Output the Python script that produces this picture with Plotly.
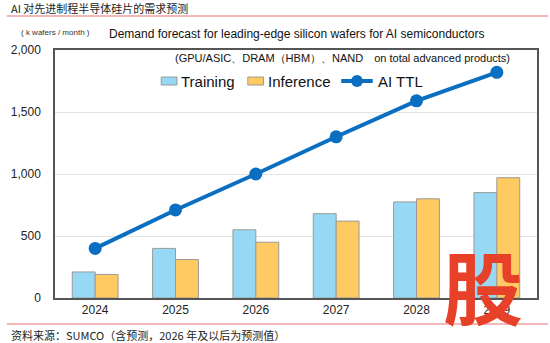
import plotly.graph_objects as go

years = ["2024", "2025", "2026", "2027", "2028", "2029"]
training = [210, 400, 550, 680, 775, 850]
inference = [190, 310, 450, 620, 800, 970]
ai_ttl = [400, 710, 1000, 1300, 1590, 1820]
y_ticks = [0, 500, 1000, 1500, 2000]
y_tick_text = ["0", "500", "1,000", "1,500", "2,000"]

W, H = 550, 343
L, R, T, B = 49, 11, 50, 45
PH = H - T - B
PW = W - L - R

TRAIN_COLOR = "#97d9f5"
INFER_COLOR = "#ffca61"
TTL_COLOR = "#0b6fc1"
EDGE = "#9a9a9a"


def py(y_px):
    return (H - B - y_px) / PH


def px(x_px):
    return (x_px - L) / PW


FONT = "Liberation Sans, Arial, sans-serif"
CJK = "Noto Sans CJK SC, sans-serif"

fig = go.Figure()
fig.add_trace(go.Bar(
    x=years, y=training, name="Training",
    marker=dict(color=TRAIN_COLOR, line=dict(color=EDGE, width=1)),
))
fig.add_trace(go.Bar(
    x=years, y=inference, name="Inference",
    marker=dict(color=INFER_COLOR, line=dict(color=EDGE, width=1)),
))
fig.add_trace(go.Scatter(
    x=years, y=ai_ttl, name="AI TTL", mode="lines+markers",
    line=dict(color=TTL_COLOR, width=4),
    marker=dict(color=TTL_COLOR, size=13),
))

fig.update_layout(
    width=W, height=H,
    margin=dict(l=L, r=R, t=T, b=B),
    paper_bgcolor="white", plot_bgcolor="white",
    barmode="group", bargap=0.43, bargroupgap=0,
    font=dict(family=FONT, size=12, color="#222"),
    showlegend=False,
    xaxis=dict(
        showline=True, linecolor="#555", linewidth=1.5, mirror=True,
        ticks="", tickfont=dict(size=12, color="#222"),
        range=[-0.5, 5.5],
    ),
    yaxis=dict(
        range=[0, 2000], tickvals=y_ticks, ticktext=y_tick_text,
        showgrid=True, gridcolor="#e4e4e4", gridwidth=1,
        showline=True, linecolor="#555", linewidth=1.5, mirror=True,
        ticks="", tickfont=dict(size=12, color="#222"), ticklabelstandoff=10,
        zeroline=False,
    ),
)

# red rules above and below the chart
for yy in (16, 324):
    fig.add_shape(type="line", xref="paper", yref="paper",
                  x0=px(0), x1=px(W), y0=py(yy), y1=py(yy),
                  line=dict(color="#e57373", width=1.2))

# legend drawn by hand: wide swatches for the bars, line + dot for the total
LEG_Y = 81
for x0, color in ((157, TRAIN_COLOR), (245, INFER_COLOR)):
    fig.add_shape(type="rect", xref="paper", yref="paper",
                  x0=px(x0), x1=px(x0 + 16), y0=py(LEG_Y + 4), y1=py(LEG_Y - 4),
                  fillcolor=color, line=dict(color=EDGE, width=1))
fig.add_shape(type="line", xref="paper", yref="paper",
              x0=px(340), x1=px(372), y0=py(LEG_Y), y1=py(LEG_Y),
              line=dict(color=TTL_COLOR, width=4))
fig.add_shape(type="circle", xref="paper", yref="paper",
              x0=px(350), x1=px(362), y0=py(LEG_Y + 6), y1=py(LEG_Y - 6),
              fillcolor=TTL_COLOR, line=dict(color=TTL_COLOR, width=0))

ann = [
    dict(text="Training", x=px(175), y=py(LEG_Y), xanchor="left",
         font=dict(size=15, color="#111")),
    dict(text="Inference", x=px(263), y=py(LEG_Y), xanchor="left",
         font=dict(size=15, color="#111")),
    dict(text="AI TTL", x=px(375), y=py(LEG_Y), xanchor="left",
         font=dict(size=15, color="#111")),
    dict(text="AI 对先进制程半导体硅片的需求预测", x=px(2), y=py(8),
         xanchor="left", font=dict(family=CJK, size=11, color="#222")),
    dict(text="资料来源：SUMCO（含预测，2026 年及以后为预测值）", x=px(2), y=py(335),
         xanchor="left", font=dict(family=CJK, size=11, color="#222")),
    dict(text="( k wafers / month )", x=px(12), y=py(33),
         xanchor="left", font=dict(size=8, color="#333")),
    dict(text="Demand forecast for leading-edge silicon wafers for AI semiconductors",
         x=px(102), y=py(34), xanchor="left",
         font=dict(size=12, color="#111")),
    dict(text="(GPU/ASIC、DRAM（HBM）、NAND　on total advanced products)",
         x=px(514), y=py(58), xanchor="right",
         font=dict(size=11, color="#111")),
    dict(text="<b>股</b>", x=px(484), y=py(284),
         xanchor="center", font=dict(family=CJK, size=80, color="#e8412a")),
]
for a in ann:
    fig.add_annotation(xref="paper", yref="paper", yanchor="middle",
                       showarrow=False, **a)

fig.write_html("out.html")
